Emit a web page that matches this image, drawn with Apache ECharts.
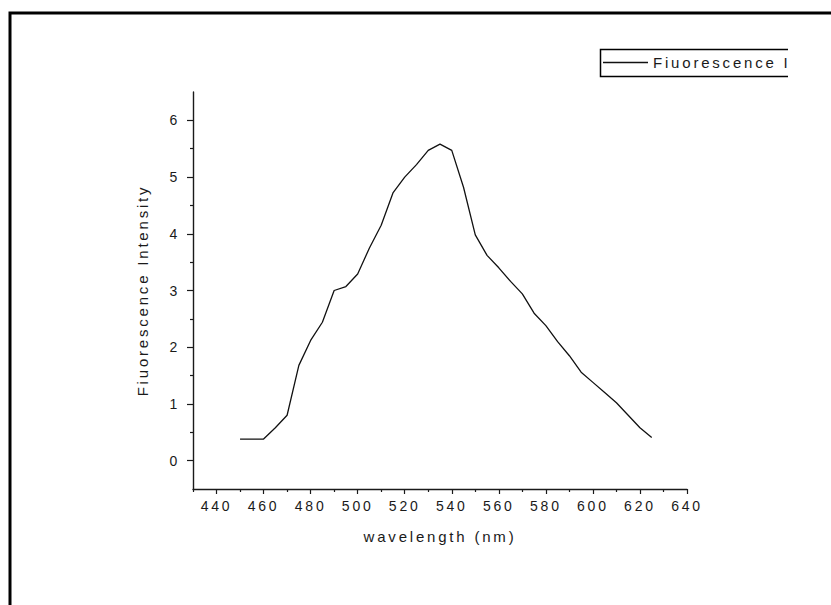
<!DOCTYPE html>
<html>
<head>
<meta charset="utf-8">
<title>Fluorescence spectrum</title>
<script src="https://cdn.jsdelivr.net/npm/echarts@6/dist/echarts.min.js"></script>
<style>
  html, body { margin: 0; padding: 0; background: #ffffff; }
  #chart { width: 831px; height: 605px; }
  /* widen the glyph spacing of every label drawn by the SVG renderer */
  #chart svg text { letter-spacing: 2.8px; }
</style>
</head>
<body>
<div id="chart"></div>
<script>
// Emission spectrum: wavelength (nm) and measured intensity
const wavelengths = [450, 455, 460, 465, 470, 475, 480, 485, 490, 495,
                     500, 505, 510, 515, 520, 525, 530, 535, 540, 545,
                     550, 555, 560, 565, 570, 575, 580, 585, 590, 595,
                     600, 605, 610, 615, 620, 625];
const intensity = [0.38, 0.38, 0.38, 0.58, 0.80, 1.68, 2.12, 2.44, 3.00, 3.07,
                   3.29, 3.75, 4.15, 4.72, 5.00, 5.22, 5.47, 5.58, 5.47, 4.82,
                   3.98, 3.62, 3.40, 3.16, 2.94, 2.60, 2.38, 2.10, 1.85, 1.56,
                   1.38, 1.20, 1.02, 0.80, 0.58, 0.41];

// Axis ticks
const xMajorTicks = [440, 460, 480, 500, 520, 540, 560, 580, 600, 620, 640];
const xMinorTicks = [430, 450, 470, 490, 510, 530, 550, 570, 590, 610, 630];
const yMajorTicks = [0, 1, 2, 3, 4, 5, 6];
const yMinorTicks = [0.5, 1.5, 2.5, 3.5, 4.5, 5.5];

const seriesName = 'Fiuorescence I';
const xTitle = 'wavelength (nm)';
const yTitle = 'Fiuorescence Intensity';

const FONT = '"Liberation Sans", Arial, sans-serif';
const INK = '#1a1a1a';

const chart = echarts.init(document.getElementById('chart'), null, { renderer: 'svg' });

const xRange = { min: 430, max: 640 };
const yRange = { min: -0.5, max: 6.5 };

chart.setOption({
  backgroundColor: '#ffffff',
  animation: false,
  grid: { left: 193, right: 144, top: 92, bottom: 116 },
  legend: {
    left: 603,
    top: 55,
    padding: 0,
    icon: 'rect',
    itemWidth: 45,
    itemHeight: 1.5,
    itemStyle: { color: '#111111' },
    textStyle: { fontFamily: FONT, fontSize: 15, color: INK },
    data: [seriesName]
  },
  xAxis: [
    {
      type: 'value',
      min: xRange.min,
      max: xRange.max,
      position: 'bottom',
      name: xTitle,
      nameLocation: 'middle',
      nameGap: 40,
      nameTextStyle: { fontFamily: FONT, fontSize: 15, color: INK },
      splitLine: { show: false },
      axisLine: { show: true, onZero: false, lineStyle: { color: INK, width: 1.4 } },
      axisTick: { show: true, inside: false, length: 5, customValues: xMajorTicks,
                  lineStyle: { color: INK, width: 1.2 } },
      axisLabel: { show: true, margin: 10, customValues: xMajorTicks,
                   fontFamily: FONT, fontSize: 14, color: INK }
    },
    {
      type: 'value',
      min: xRange.min,
      max: xRange.max,
      position: 'bottom',
      splitLine: { show: false },
      axisLine: { show: false, onZero: false },
      axisTick: { show: true, inside: false, length: 3, customValues: xMinorTicks,
                  lineStyle: { color: INK, width: 1.2 } },
      axisLabel: { show: false }
    }
  ],
  yAxis: [
    {
      type: 'value',
      min: yRange.min,
      max: yRange.max,
      position: 'left',
      name: yTitle,
      nameLocation: 'middle',
      nameGap: 43,
      nameTextStyle: { fontFamily: FONT, fontSize: 15, color: INK },
      splitLine: { show: false },
      axisLine: { show: true, onZero: false, lineStyle: { color: INK, width: 1.4 } },
      axisTick: { show: true, inside: false, length: 6, customValues: yMajorTicks,
                  lineStyle: { color: INK, width: 1.2 } },
      axisLabel: { show: true, margin: 13, customValues: yMajorTicks,
                   fontFamily: FONT, fontSize: 14, color: INK }
    },
    {
      type: 'value',
      min: yRange.min,
      max: yRange.max,
      position: 'left',
      splitLine: { show: false },
      axisLine: { show: false, onZero: false },
      axisTick: { show: true, inside: false, length: 3, customValues: yMinorTicks,
                  lineStyle: { color: INK, width: 1.2 } },
      axisLabel: { show: false }
    }
  ],
  series: [
    {
      name: seriesName,
      type: 'line',
      xAxisIndex: 0,
      yAxisIndex: 0,
      symbol: 'none',
      smooth: false,
      lineStyle: { color: '#111111', width: 1.3 },
      itemStyle: { color: '#111111' },
      data: wavelengths.map((w, i) => [w, intensity[i]])
    }
  ],
  graphic: [
    // page frame (open towards the right and bottom edges)
    {
      type: 'polyline',
      silent: true,
      shape: { points: [[831, 13], [10, 13], [10, 605]] },
      style: { stroke: '#000000', lineWidth: 3, fill: null }
    },
    // legend box, cut off on its right side
    {
      type: 'polyline',
      silent: true,
      shape: { points: [[788, 49.5], [600.5, 49.5], [600.5, 76.5], [788, 76.5]] },
      style: { stroke: '#000000', lineWidth: 1.5, fill: null }
    }
  ]
});
</script>
</body>
</html>
